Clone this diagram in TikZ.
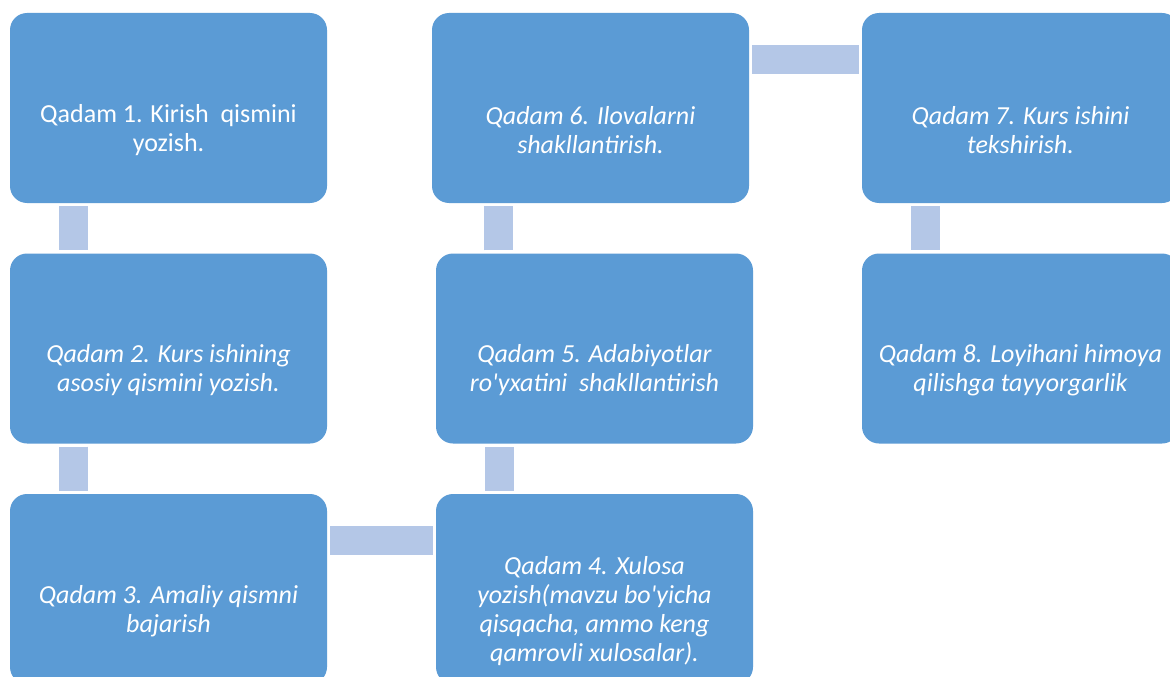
\documentclass[tikz,border=0pt]{standalone}
\usepackage{fontspec}
\setmainfont{Carlito}
\usetikzlibrary{positioning}
\definecolor{boxblue}{HTML}{5B9BD5}
\definecolor{barblue}{HTML}{B4C7E7}
\tikzset{
  stepbox/.style={fill=boxblue, rounded corners=17pt, minimum width=317pt, minimum height=190pt, inner sep=0pt},
  steptext/.style={text=white, align=center, font=\fontsize{26}{29}\selectfont\itshape, inner sep=0pt},
  bar/.style={barblue, line width=29pt, shorten <=3pt, shorten >=3pt}
}
\begin{document}
\begin{tikzpicture}[x=1pt, y=-1pt]
\path[use as bounding box, fill=white] (0,0) rectangle (1170,677);
\clip (0,0) rectangle (1170,677);

\node[stepbox] (q1) at (168.5,108) {};
\node[stepbox] (q2) at (168.5,348.5) {};
\node[stepbox] (q3) at (168.5,589) {};
\node[stepbox] (q4) at (594.5,589) {};
\node[stepbox] (q5) at (594.5,348.5) {};
\node[stepbox] (q6) at (590.5,108) {};
\node[stepbox] (q7) at (1020.5,108) {};
\node[stepbox] (q8) at (1020.5,348.5) {};

\draw[bar] ([xshift=63.5pt]q1.south west) -- ([xshift=63.5pt]q2.north west);
\draw[bar] ([xshift=63.5pt]q2.south west) -- ([xshift=63.5pt]q3.north west);
\draw[bar] ([yshift=-46.5pt]q3.north east) -- ([yshift=-46.5pt]q3.north east -| q4.west);
\draw[bar] ([xshift=63.5pt]q4.north west) -- ([xshift=63.5pt]q5.south west);
\draw[bar] ([xshift=62.5pt]q5.north west) -- ([xshift=62.5pt]q5.north west |- q6.south);
\draw[bar] ([yshift=-46.5pt]q6.north east) -- ([yshift=-46.5pt]q6.north east -| q7.west);
\draw[bar] ([xshift=63.5pt]q7.south west) -- ([xshift=63.5pt]q8.north west);

\node[steptext, font=\fontsize{26}{29}\selectfont\upshape] (t1) at ([yshift=-22pt]q1.center) {Qadam 1. Kirish\ \ qismini\\yozish.};
\node[steptext] (t2) at ([yshift=-22pt]q2.center) {Qadam 2. Kurs ishining\\asosiy qismini yozish.};
\node[steptext] (t3) at ([yshift=-22pt]q3.center) {Qadam 3. Amaliy qismni\\bajarish};
\node[steptext] (t4) at ([yshift=-22pt]q4.center) {Qadam 4. Xulosa\\yozish(mavzu bo\textquotesingle yicha\\qisqacha, ammo keng\\qamrovli xulosalar).};
\node[steptext] (t5) at ([yshift=-22pt]q5.center) {Qadam 5. Adabiyotlar\\ro\textquotesingle yxatini\ \ shakllantirish};
\node[steptext] (t6) at ([yshift=-22pt]q6.center) {Qadam 6. Ilovalarni\\shakllantirish.};
\node[steptext] (t7) at ([yshift=-22pt]q7.center) {Qadam 7. Kurs ishini\\tekshirish.};
\node[steptext] (t8) at ([yshift=-22pt]q8.center) {Qadam 8. Loyihani himoya\\qilishga tayyorgarlik};
\end{tikzpicture}
\end{document}
